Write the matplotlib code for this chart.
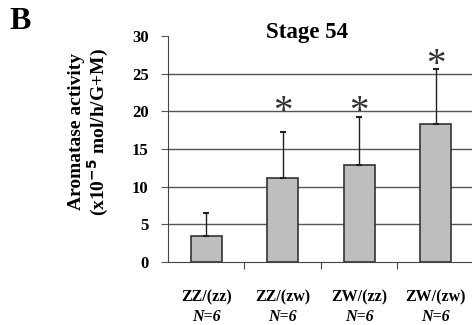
import numpy as np
import matplotlib.pyplot as plt
from matplotlib.transforms import blended_transform_factory

groups = ['ZZ/(zz)', 'ZZ/(zw)', 'ZW/(zz)', 'ZW/(zw)']
n_labels = ['N=6', 'N=6', 'N=6', 'N=6']
means = [3.5, 11.2, 12.9, 18.3]
errors = [3.0, 6.1, 6.4, 7.3]
star_y = [None, 19.9, 19.9, 26.1]

plt.rcParams['font.family'] = ['Liberation Serif', 'DejaVu Serif']

fig = plt.figure(figsize=(4.72, 3.25), dpi=100)
ax = fig.add_axes([0.356, 0.194, 0.648, 0.695])

x = np.arange(len(groups))
ax.bar(x, means, width=0.41, color='#bebebe', edgecolor='#333333', linewidth=1.2, zorder=3)
ax.errorbar(x, means, yerr=[np.zeros(len(errors)), errors], fmt='none',
            ecolor='#222222', elinewidth=1.0, capsize=2, capthick=1.5, zorder=4)

for xi, sy in zip(x, star_y):
    if sy is not None:
        ax.text(xi, sy, '*', ha='center', va='center', fontsize=28, color='#333333')

ax.set_xlim(-0.5, 3.5)
ax.set_ylim(0, 30)
ax.set_yticks(range(0, 31, 5))
for yv in range(5, 30, 5):
    ax.axhline(yv, color='#555555', linewidth=1.0, zorder=1)

ax.spines['top'].set_visible(False)
ax.spines['right'].set_visible(False)
ax.spines['left'].set_color('#444444')
ax.spines['bottom'].set_color('#444444')

# ticks sit between the categories
ax.set_xticks([0.5, 1.5, 2.5])
ax.set_xticklabels([])
ax.tick_params(axis='x', direction='out', length=5, color='#444444')
ax.tick_params(axis='y', direction='out', length=5, color='#555555', pad=9)
for lab in ax.get_yticklabels():
    lab.set_fontsize(12)
    lab.set_fontweight('bold')

for xi, g, n in zip(x, groups, n_labels):
    ax.text(xi, -4.65, g, ha='center', va='center', fontsize=11.5, fontweight='bold')
    ax.text(xi, -7.3, n, ha='center', va='center', fontsize=11.5, fontweight='bold', style='italic')

trans = blended_transform_factory(ax.transAxes, ax.transData)
ax.text(0.454, 29.8, 'Stage 54', ha='center', va='baseline', fontsize=16.5,
        fontweight='bold', transform=trans)
fig.text(0.19, 0.594, 'Aromatase activity\n(x10$^{\\mathbf{-5}}$ mol/h/G+M)', rotation=90,
         ha='center', va='center', fontsize=14, fontweight='bold', linespacing=1.05)
fig.text(0.042, 0.935, 'B', fontsize=23, fontweight='bold', ha='center', va='center')

fig.savefig('out.png', dpi=100)
